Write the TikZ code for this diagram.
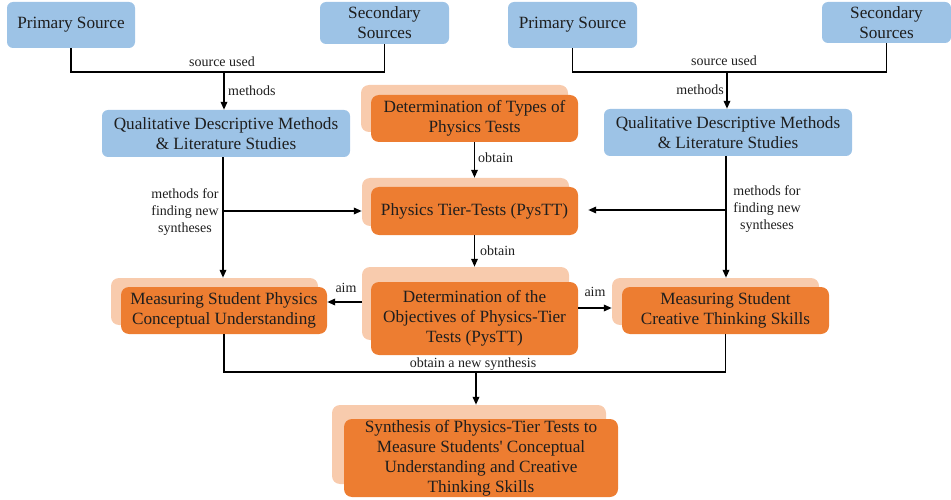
\documentclass[tikz,border=0pt]{standalone}
\usepackage{fontspec}
\setmainfont{Liberation Serif}
\newfontfamily\plainquote{Liberation Serif}[Ligatures=TeXOff]
\usetikzlibrary{arrows.meta,calc}
\definecolor{bluebox}{HTML}{9DC3E6}
\definecolor{orangebox}{HTML}{ED7D31}
\definecolor{shadowbox}{HTML}{F8CBAD}
\definecolor{txt}{HTML}{1E1E1E}
\tikzset{
  bluenode/.style={fill=bluebox, rounded corners=6pt, inner sep=0pt, align=center, text=txt,
     font=\fontsize{17.2}{20}\selectfont},
  orangenode/.style={fill=orangebox, rounded corners=8pt, inner sep=0pt, align=center, text=txt,
     font=\fontsize{17.2}{20}\selectfont},
  shadownode/.style={fill=shadowbox, rounded corners=8pt, inner sep=0pt},
  conn/.style={line width=1.8pt, draw=black},
  arr/.style={conn, -{Triangle[length=8pt,width=6.5pt]}},
  lbl/.style={inner sep=0pt, text=txt, align=center, font=\fontsize{14}{17}\selectfont},
}
\begin{document}
\begin{tikzpicture}[x=1pt,y=-1pt]
\useasboundingbox (0,0) rectangle (951,500);
% blue boxes
\node[bluenode, minimum width=128pt, minimum height=46pt] (ps1) at (71,25) {Primary Source};
\node[bluenode, minimum width=129pt, minimum height=42pt] (ss1) at (384.5,23) {Secondary\\Sources};
\node[bluenode, minimum width=248pt, minimum height=47pt] (q1) at (226,133.5) {Qualitative Descriptive Methods\\\& Literature Studies};
\node[bluenode, minimum width=129pt, minimum height=46pt] (ps2) at (572.5,25) {Primary Source};
\node[bluenode, minimum width=129pt, minimum height=41pt] (ss2) at (886.5,22.5) {Secondary\\Sources};
\node[bluenode, minimum width=248pt, minimum height=47pt] (q2) at (728,132.5) {Qualitative Descriptive Methods\\\& Literature Studies};
% orange boxes with shadows
\node[shadownode, minimum width=207pt, minimum height=47pt] (typess) at (464.5,108.5) {};
\node[orangenode, minimum width=207pt, minimum height=47pt] (types) at (474.5,118.5) {Determination of Types of\\Physics Tests};
\node[shadownode, minimum width=207pt, minimum height=48pt] (pysts) at (465.5,202) {};
\node[orangenode, minimum width=207pt, minimum height=48pt] (pyst) at (474.5,211) {Physics Tier-Tests (PysTT)};
\node[shadownode, minimum width=207pt, minimum height=73pt] (objs) at (465.5,303.5) {};
\node[orangenode, minimum width=207pt, minimum height=73pt] (obj) at (474.5,318.5) {Determination of the\\Objectives of Physics-Tier\\Tests (PysTT)};
\node[shadownode, minimum width=207pt, minimum height=47pt] (mpcs) at (214.5,301.5) {};
\node[orangenode, minimum width=206pt, minimum height=47pt] (mpc) at (224,310.5) {Measuring Student Physics\\Conceptual Understanding};
\node[shadownode, minimum width=207pt, minimum height=47pt] (mcts) at (715.5,301.5) {};
\node[orangenode, minimum width=207pt, minimum height=47pt] (mct) at (725.5,310.5) {Measuring Student\\Creative Thinking Skills};
\node[shadownode, minimum width=274pt, minimum height=79pt] (syns) at (469,444.5) {};
\node[orangenode, minimum width=274pt, minimum height=78pt] (syn) at (481,458) {Synthesis of Physics-Tier Tests to\\Measure Students{\plainquote'} Conceptual\\Understanding and Creative\\Thinking Skills};
% junction coordinates
\coordinate (j1) at (224,72);
\coordinate (j2) at (727,72);
\coordinate (b1) at (223,211);
\coordinate (b2) at (726,210);
\coordinate (a1) at (362,302);
\coordinate (a2) at (578,308);
\coordinate (j3) at (476,372);
% top left
\draw[conn] (ps1.south) -- (ps1.south |- j1) -- (ss1.south |- j1) -- (ss1.south);
\draw[arr] (j1) -- (j1 |- q1.north);
\node[lbl] (su1) at (222,62) {source used};
\node[lbl, anchor=west] (m1) at (228,91) {methods};
% top right
\draw[conn] (ps2.south) -- (ps2.south |- j2) -- (ss2.south |- j2) -- (ss2.south);
\draw[arr] (j2) -- (j2 |- q2.north);
\node[lbl] (su2) at (724,61) {source used};
\node[lbl, anchor=east] (m2) at (724,90) {methods};
% centre column
\draw[arr] (types.south) -- (types.south |- pysts.north);
\node[lbl, anchor=west] (ob1) at (478,158) {obtain};
\draw[arr] (pyst.south) -- (pyst.south |- objs.north);
\node[lbl, anchor=west] (ob2) at (480,251) {obtain};
% left branch
\draw[arr] (b1 |- q1.south) -- (b1 |- mpcs.north);
\draw[arr] (b1) -- (b1 -| pysts.west);
\node[lbl] (mf1) at (185,212) {methods for\\finding new\\syntheses};
% right branch
\draw[arr] (b2 |- q2.south) -- (b2 |- mcts.north);
\draw[arr, shorten >=10pt] (b2) -- (b2 -| pyst.east);
\node[lbl] (mf2) at (767,209) {methods for\\finding new\\syntheses};
% aims
\draw[arr] (a1) -- (a1 -| mpc.east);
\node[lbl] (aim1) at (346,288) {aim};
\draw[arr] (a2) -- (a2 -| mcts.west);
\node[lbl] (aim2) at (595,292) {aim};
% bottom
\draw[conn] (mpc.south) -- (mpc.south |- j3) -- (mct.south |- j3) -- (mct.south);
\draw[arr] (j3) -- (j3 |- syns.north);
\node[lbl] (ons) at (473,364) {obtain a new synthesis};
\end{tikzpicture}
\end{document}
